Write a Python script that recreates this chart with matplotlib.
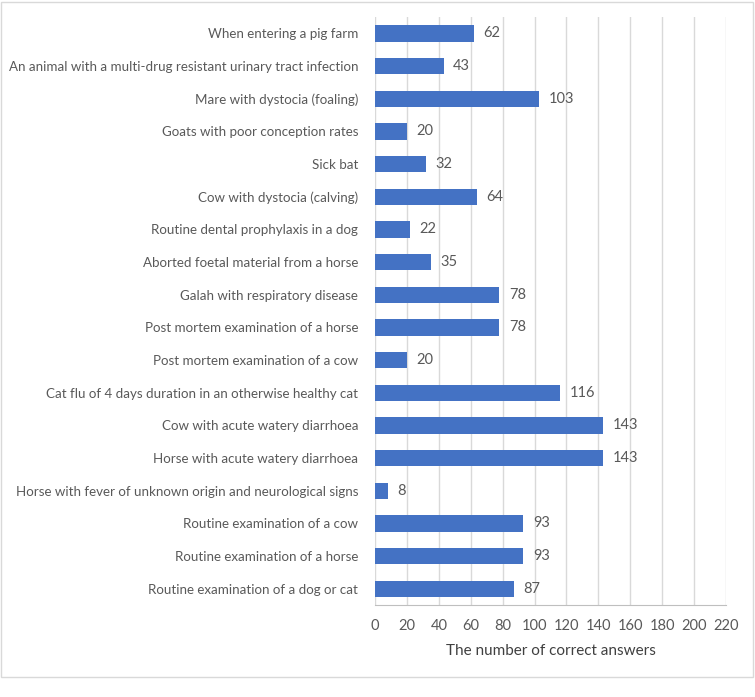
import matplotlib
matplotlib.use("Agg")
import matplotlib.pyplot as plt
from matplotlib.patches import Rectangle

categories = [
    "When entering a pig farm",
    "An animal with a multi-drug resistant urinary tract infection",
    "Mare with dystocia (foaling)",
    "Goats with poor conception rates",
    "Sick bat",
    "Cow with dystocia (calving)",
    "Routine dental prophylaxis in a dog",
    "Aborted foetal material from a horse",
    "Galah with respiratory disease",
    "Post mortem examination of a horse",
    "Post mortem examination of a cow",
    "Cat flu of 4 days duration in an otherwise healthy cat",
    "Cow with acute watery diarrhoea",
    "Horse with acute watery diarrhoea",
    "Horse with fever of unknown origin and neurological signs",
    "Routine examination of a cow",
    "Routine examination of a horse",
    "Routine examination of a dog or cat",
]
values = [62, 43, 103, 20, 32, 64, 22, 35, 78, 78, 20, 116, 143, 143, 8, 93, 93, 87]
x_ticks = list(range(0, 221, 20))
x_label = "The number of correct answers"

plt.rcParams['font.family'] = ['Lato', 'DejaVu Sans']
txt = '#595959'

fig = plt.figure(figsize=(7.55, 6.97), dpi=100)
fig.patches.append(Rectangle((1/755, 1 - 677/697), 752/755, 675/697, transform=fig.transFigure,
                             fill=False, edgecolor='#d9d9d9', linewidth=1))
ax = fig.add_axes([375/755, 1 - 605/697, 351/755, 588/697])

n = len(categories)
ypos = list(range(n))[::-1]
bars = ax.barh(ypos, values, height=0.5, color='#4472C4', zorder=3)
for y, v in zip(ypos, values):
    ax.text(v + 6, y, str(v), va='center', ha='left', fontsize=10.5, color=txt)

ax.set_yticks(ypos)
ax.set_yticklabels(categories, fontsize=9.6, color=txt)
ax.set_xticks(x_ticks)
ax.set_xticklabels([str(t) for t in x_ticks], fontsize=10.5, color=txt)
ax.set_xlim(0, 220)
ax.set_ylim(-0.5, n - 0.5)
ax.tick_params(axis='both', length=0)
ax.tick_params(axis='y', pad=12)
ax.tick_params(axis='x', pad=10)
ax.grid(axis='x', color='#d9d9d9', linewidth=1, zorder=0)
for s in ['top', 'right', 'left']:
    ax.spines[s].set_visible(False)
ax.spines['bottom'].set_color('#bfbfbf')
ax.set_xlabel(x_label, fontsize=11, color='#404040', labelpad=8)

fig.savefig("out.png", dpi=100)
